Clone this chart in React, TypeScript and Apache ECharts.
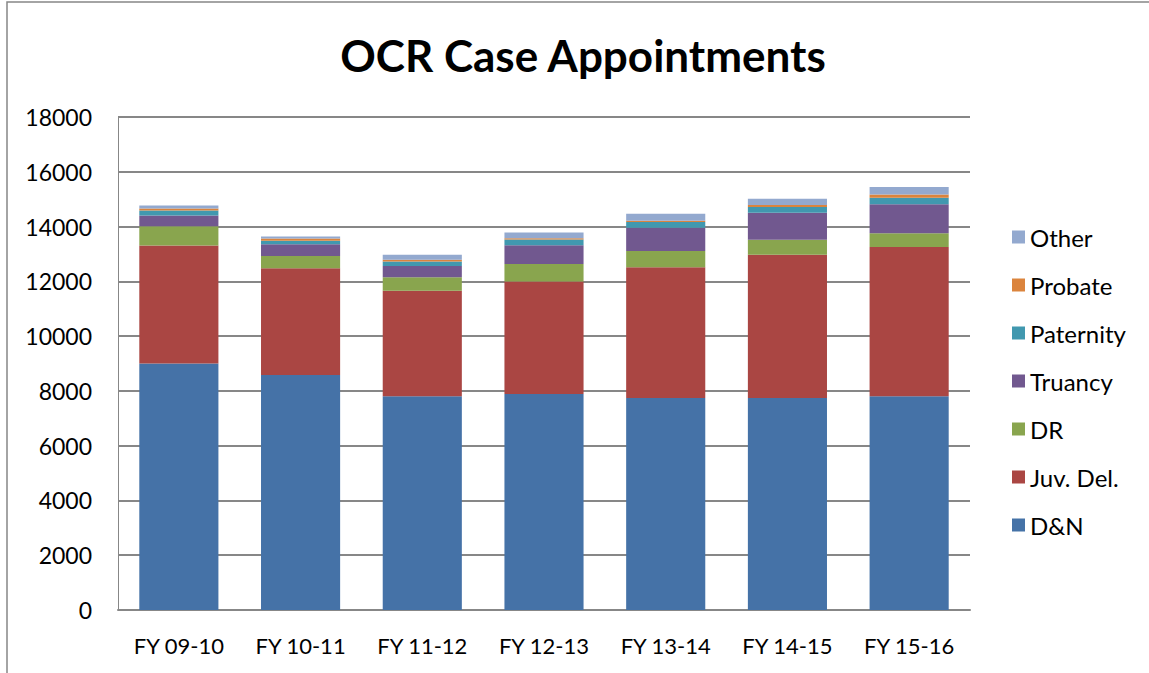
import React, { useEffect, useRef } from "react";
import * as echarts from "echarts";

const categories = ["FY 09-10", "FY 10-11", "FY 11-12", "FY 12-13", "FY 13-14", "FY 14-15", "FY 15-16"];
const dn = [9000, 8580, 7800, 7890, 7740, 7740, 7800];
const juvDel = [4310, 3895, 3860, 4100, 4770, 5230, 5450];
const dr = [700, 450, 485, 645, 595, 550, 510];
const truancy = [390, 425, 415, 685, 850, 985, 1050];
const paternity = [190, 135, 160, 205, 210, 210, 240];
const probate = [70, 75, 70, 50, 50, 70, 120];
const other = [110, 80, 185, 205, 255, 230, 270];

const seriesNames = ["D&N", "Juv. Del.", "DR", "Truancy", "Paternity", "Probate", "Other"];
const seriesData = [dn, juvDel, dr, truancy, paternity, probate, other];
const colors = ["#4572A7", "#AA4643", "#89A54E", "#71588F", "#4198AF", "#DB843D", "#93A9CF"];

const FONT = "Lato";

export default function App() {
  const ref = useRef<HTMLDivElement>(null);
  useEffect(() => {
    document.body.style.margin = "0";
    const chart = echarts.init(ref.current!, null, { renderer: "svg" });
    chart.setOption({
      animation: false,
      backgroundColor: "#ffffff",
      title: {
        text: "OCR Case Appointments",
        left: 578,
        top: 28,
        textAlign: "center",
        textStyle: { fontFamily: FONT, fontWeight: "bold", fontSize: 44, color: "#000" },
      },
      graphic: [
        {
          type: "rect",
          shape: { x: 7, y: 2, width: 1200, height: 700 },
          style: { fill: "none", stroke: "#868686", lineWidth: 1.5 },
          silent: true,
        },
      ],
      grid: { left: 118, right: 179, top: 117, bottom: 63 },
      legend: {
        orient: "vertical",
        left: 1007,
        top: 220,
        itemWidth: 13,
        itemHeight: 13,
        itemGap: 24,
        itemTextGap: 9,
        icon: "rect",
        data: [...seriesNames].reverse(),
        textStyle: { fontFamily: FONT, fontSize: 24, color: "#000" },
      },
      xAxis: {
        type: "category",
        data: categories,
        axisLine: { lineStyle: { color: "#878787", width: 2 } },
        axisTick: { show: false },
        axisLabel: { fontFamily: FONT, fontSize: 22, color: "#000", margin: 24 },
      },
      yAxis: {
        type: "value",
        min: 0,
        max: 18000,
        interval: 2000,
        axisLine: { show: true, lineStyle: { color: "#878787", width: 1 } },
        axisTick: { show: false },
        axisLabel: {
          fontFamily: FONT,
          fontSize: 23,
          color: "#000",
          margin: 26,
          formatter: (v: number) => String(v),
        },
        splitLine: { lineStyle: { color: "#878787", width: 2 } },
      },
      series: seriesNames.map((name, i) => ({
        name,
        type: "bar",
        stack: "total",
        barWidth: "65%",
        data: seriesData[i],
        itemStyle: { color: colors[i] },
      })),
    });
    return () => chart.dispose();
  }, []);
  return <div ref={ref} style={{ width: 1149, height: 673 }} />;
}
